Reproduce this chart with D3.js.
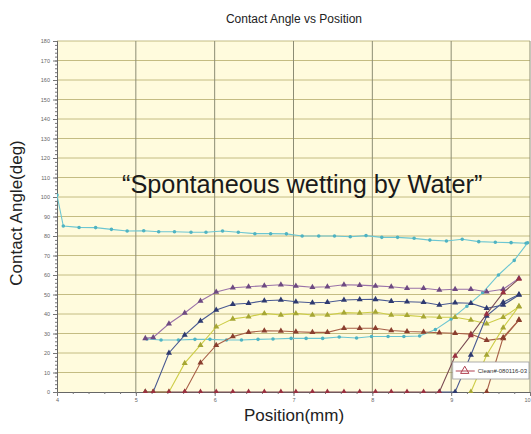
<!DOCTYPE html>
<meta charset="utf-8">
<script src="https://cdn.jsdelivr.net/npm/d3@7"></script>
<style>
  body { margin: 0; background: #fff; }
  text { font-family: "Liberation Sans", Arial, sans-serif; }
</style>
<div id="my_dataviz"></div>
<script>

// ---- data ----
// shared x positions (mm) of the four triangle series
var positions = [5.12, 5.22, 5.42, 5.62, 5.82, 6.02, 6.23, 6.43, 6.63, 6.84, 7.03, 7.24, 7.43,
                 7.64, 7.84, 8.04, 8.24, 8.44, 8.65, 8.85, 9.05, 9.25, 9.45, 9.66, 9.86];

var purpleSeries = [27.5, 28, 35, 40.5, 46.7, 51.3, 53.5, 54, 54.5, 55, 54.4, 53.7, 54,
                    55, 54.8, 54.4, 54, 53.2, 53.2, 52.3, 52.7, 52.7, 51.4, 52.7, 58.3];
var blueSeries   = [0, 0, 20, 29.2, 36.4, 42, 45, 45.5, 46.8, 47.2, 46.3, 45.8, 46,
                    47.2, 47.4, 47.5, 46.5, 46.3, 46, 44.6, 45.8, 45.5, 42.9, 44.6, 49.7];
var yellowSeries = [0, 0, 0, 14.8, 24, 33.4, 37.5, 38.6, 40.3, 39.5, 40.3, 39.5, 39.5,
                    40.7, 40.5, 41, 39.5, 39.3, 38.6, 38.3, 38.3, 36.9, 35, 38.3, 43.7];
var brownSeries  = [null, null, null, 0, 15, 24, 28.4, 30.6, 31.4, 31.3, 30.9, 30.6, 30.6,
                    32.7, 32.7, 32.7, 31.5, 31, 30.8, 30.4, 30.1, 29.7, 26.5, 27.5, 36.8];
// the flat zero run that rises at the right end (legend entry)
var cleanSeries  = [0, 0, 0, 0, 0, 0, 0, 0, 0, 0, 0, 0, 0,
                    0, 0, 0, 0, 0, 0, 0, 18.5, 29, 40, 51, 58];
// late rising lines on the right
var blueRise   = [null, null, null, null, null, null, null, null, null, null, null, null, null,
                  null, null, null, null, null, null, 0, 0, 19, 39, 46, 50];
var yellowRise = [null, null, null, null, null, null, null, null, null, null, null, null, null,
                  null, null, null, null, null, null, null, null, 0, 19, 33, 44];
var brownRise  = [null, null, null, null, null, null, null, null, null, null, null, null, null,
                  null, null, null, null, null, null, null, null, null, 0, 28, 37];

// cyan (circle marker) series
var cyanTopX = [4.0, 4.08, 4.28, 4.49, 4.69, 4.89, 5.1, 5.29, 5.49, 5.7, 5.89, 6.1, 6.3, 6.51, 6.71,
                6.91, 7.11, 7.32, 7.52, 7.72, 7.92, 8.12, 8.32, 8.53, 8.73, 8.94, 9.14, 9.35, 9.56, 9.76, 9.95];
var cyanTop  = [101, 85.1, 84.4, 84.3, 83.4, 82.6, 82.7, 82.2, 82.2, 81.9, 81.9, 82.6, 81.9, 81.2, 81.2,
                81.1, 80, 80, 80, 79.6, 80.2, 79.3, 79.3, 78.8, 77.9, 77.4, 78.3, 77.1, 76.8, 76.6, 76.3];
var cyanLowX = [5.14, 5.32, 5.54, 5.75, 5.94, 6.15, 6.34, 6.55, 6.74, 6.97, 7.16, 7.37, 7.58,
                7.8, 7.99, 8.2, 8.4, 8.6, 8.8, 9.0, 9.2, 9.4, 9.6, 9.8, 9.97];
var cyanLow  = [27.2, 26.7, 26.7, 27, 27, 26.7, 26.7, 27, 27.2, 27.5, 27.5, 27.5, 28.2,
                27.7, 28.5, 28.5, 28.5, 28.7, 32, 37.4, 44, 51, 60, 67.5, 76.5];

var xTicks = [4, 5, 6, 7, 8, 9, 10];
var yTicks = [0, 10, 20, 30, 40, 50, 60, 70, 80, 90, 100, 110, 120, 130, 140, 150, 160, 170, 180];
var legendLabel = "Clean#-080116-03";

// ---- layout ----
var margin = {top: 41, right: 1, bottom: 42, left: 57},
    width = 531 - margin.left - margin.right,
    height = 434 - margin.top - margin.bottom;

var svg = d3.select("#my_dataviz")
  .append("svg")
    .attr("width", 531)
    .attr("height", 434);

var g = svg.append("g")
    .attr("transform", "translate(" + margin.left + "," + margin.top + ")");

var x = d3.scaleLinear().domain([4, 10]).range([0, width]);
var y = d3.scaleLinear().domain([0, 180]).range([height, 0]);

// plot background
g.append("rect")
  .attr("width", width)
  .attr("height", height)
  .attr("fill", "#fffbdd");

// grid
g.append("g")
  .selectAll("line")
  .data(yTicks.slice(1))
  .enter().append("line")
    .attr("x1", 0).attr("x2", width)
    .attr("y1", d => y(d)).attr("y2", d => y(d))
    .attr("stroke", "#c4bc82")
    .attr("stroke-width", 1);

g.append("g")
  .selectAll("line")
  .data(xTicks.slice(1))
  .enter().append("line")
    .attr("x1", d => x(d)).attr("x2", d => x(d))
    .attr("y1", 0).attr("y2", height)
    .attr("stroke", "#8c8c74")
    .attr("stroke-width", 1);

// axes
var yAxis = g.append("g")
  .call(d3.axisLeft(y).tickValues(yTicks).tickSize(4).tickPadding(3));
var yMinor = g.append("g")
  .call(d3.axisLeft(y).ticks(90).tickSize(2).tickFormat(""));
var xAxis = g.append("g")
  .attr("transform", "translate(0," + height + ")")
  .call(d3.axisBottom(x).tickValues(xTicks).tickSize(4).tickPadding(2).tickFormat(d3.format("d")));
var xMinor = g.append("g")
  .attr("transform", "translate(0," + height + ")")
  .call(d3.axisBottom(x).ticks(30).tickSize(2).tickFormat(""));

[yAxis, yMinor, xAxis, xMinor].forEach(function(a) {
  a.select(".domain").attr("stroke", "#666");
  a.selectAll(".tick line").attr("stroke", "#777");
  a.selectAll("text").attr("font-size", 5.5).attr("fill", "#666")
    .attr("font-family", "Liberation Sans, Arial, sans-serif");
});
// last x label sits on the right edge
xAxis.selectAll(".tick text").filter(d => d === 10).attr("text-anchor", "end");

// annotation
g.append("text")
  .attr("x", 65)
  .attr("y", 152)
  .attr("font-size", 25.3)
  .attr("fill", "#1a1a1a")
  .text("\u201CSpontaneous wetting by Water\u201D");

// ---- series ----
var clip = g.append("clipPath").attr("id", "plotclip")
  .append("rect").attr("width", width + 1).attr("height", height + 2).attr("y", -1);

var plot = g.append("g").attr("clip-path", "url(#plotclip)");

var line = d3.line()
  .defined(d => d.v != null)
  .x(d => x(d.p))
  .y(d => y(d.v));

function pairs(xs, vs) {
  return xs.map(function(p, i) { return {p: p, v: vs[i]}; });
}

var tri = d3.symbol().type(d3.symbolTriangle).size(16);
var dot = d3.symbol().type(d3.symbolCircle).size(10);

function drawSeries(xs, vs, stroke, fill, sym) {
  var pts = pairs(xs, vs);
  plot.append("path")
    .datum(pts)
    .attr("fill", "none")
    .attr("stroke", stroke)
    .attr("stroke-width", 1.1)
    .attr("d", line);
  plot.append("g")
    .selectAll("path")
    .data(pts.filter(d => d.v != null))
    .enter().append("path")
      .attr("transform", d => "translate(" + x(d.p) + "," + y(d.v) + ")")
      .attr("d", sym)
      .attr("fill", fill);
}

drawSeries(cyanTopX, cyanTop, "#6cc6d2", "#4fb3c2", dot);
drawSeries(cyanLowX, cyanLow, "#6cc6d2", "#4fb3c2", dot);
drawSeries(positions, purpleSeries, "#9a72a8", "#6e4a82", tri);
drawSeries(positions, blueSeries, "#4a5a92", "#2e3a70", tri);
drawSeries(positions, yellowSeries, "#cdcd48", "#a6a634", tri);
drawSeries(positions, brownSeries, "#a86048", "#8a3e2e", tri);
drawSeries(positions, blueRise, "#4a5a92", "#2e3a70", tri);
drawSeries(positions, yellowRise, "#cdcd48", "#a6a634", tri);
drawSeries(positions, brownRise, "#a86048", "#8a3e2e", tri);
drawSeries(positions, cleanSeries, "#7a4a52", "#9a3040", tri);

// legend
var legend = g.append("g")
  .attr("transform", "translate(" + (x(9.02)) + "," + (height - 30) + ")");
legend.append("rect")
  .attr("width", width - x(9.02) - 1)
  .attr("height", 17)
  .attr("fill", "#fff")
  .attr("stroke", "#999")
  .attr("stroke-width", 0.8);
legend.append("line")
  .attr("x1", 3).attr("x2", 22)
  .attr("y1", 9).attr("y2", 9)
  .attr("stroke", "#b04050").attr("stroke-width", 1);
legend.append("path")
  .attr("transform", "translate(12,9)")
  .attr("d", d3.symbol().type(d3.symbolTriangle).size(30))
  .attr("fill", "none")
  .attr("stroke", "#b04050");
legend.append("text")
  .attr("x", 25)
  .attr("y", 11)
  .attr("font-size", 6)
  .attr("fill", "#333")
  .text(legendLabel);

// titles
svg.append("text")
  .attr("x", 294)
  .attr("y", 23)
  .attr("text-anchor", "middle")
  .attr("font-size", 12)
  .attr("fill", "#222")
  .text("Contact Angle vs Position");

svg.append("text")
  .attr("x", 294)
  .attr("y", 421)
  .attr("text-anchor", "middle")
  .attr("font-size", 17)
  .attr("fill", "#222")
  .text("Position(mm)");

svg.append("text")
  .attr("transform", "rotate(-90)")
  .attr("x", -213)
  .attr("y", 22)
  .attr("text-anchor", "middle")
  .attr("font-size", 17)
  .attr("fill", "#222")
  .text("Contact Angle(deg)");

</script>
